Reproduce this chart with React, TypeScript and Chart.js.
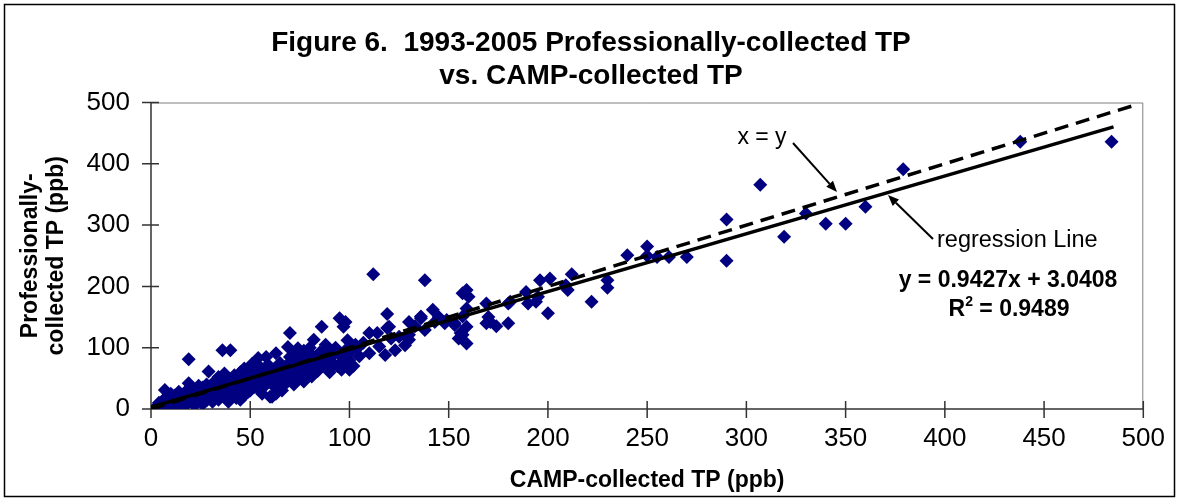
import React, { useEffect, useRef } from 'react';
import { Chart, registerables } from 'chart.js';

Chart.register(...registerables);

// CAMP-collected TP (ppb) — x values
const campTP = [
  3, 4, 5, 6, 7, 7, 8, 8, 9, 10, 10, 11, 12, 12, 13, 14, 15, 15, 16, 17, 18, 18, 19, 19, 20, 20, 21, 22, 22, 23, 24, 25, 25, 26, 27, 28, 29, 29, 30, 30,
  31, 32, 33, 34, 35, 35, 36, 36, 37, 38, 39, 40, 40, 41, 42, 42, 43, 44, 45, 45, 46, 47, 47, 48, 49, 50, 50, 51, 51,
  52, 53, 54, 54, 55, 55, 56, 57, 58, 58, 59, 60, 60, 61, 62, 63, 63, 63, 64, 64, 65, 66, 66, 67, 68, 68, 69, 69, 70, 70, 71, 72, 72,
  73, 74, 74, 75, 76, 76, 77, 78, 79, 80, 80, 81, 82, 82, 83, 84, 85, 86, 86, 87, 88, 89, 89, 90, 91, 92, 93, 94, 95, 96, 96, 97, 98, 98, 99, 99, 100, 100, 101, 102, 104, 105,
  14, 17, 21, 24, 26, 28, 31, 33, 34, 37, 38, 41, 43, 44, 46, 48, 49, 52, 53, 56, 57, 59, 61, 62, 65, 67, 70, 71, 73, 75, 77, 78, 81, 84, 87, 90, 92, 94, 97, 103,
  107, 110, 110, 112, 114, 115, 118, 119, 119, 120, 121, 123, 125, 128, 130, 130, 130, 133, 136, 136, 138, 138, 142, 143, 145, 148, 149, 153, 153, 155, 156, 157, 157, 157, 159, 159, 159, 159, 160,
  169, 170, 169, 171, 174, 180, 180, 181, 189, 190, 194, 195, 196, 201, 200, 210, 212,
  209, 222, 230, 230, 240, 250, 250, 255, 261, 270, 290, 290, 307, 319, 330, 340, 350, 360, 379, 438, 484,
];

// Professionally-collected TP (ppb) — y values
const proTP = [
  5, 10, 2, 14, 8, 31, 20, 3, 12, 25, 1, 16, 3, 22, 10, 28, 18, 6, 12, 24, 8, 30, 81, 42, 16, 35, 22, 6, 28, 12, 38, 20, 30, 8, 25, 40, 61, 18, 20, 32,
  12, 45, 26, 15, 38, 50, 96, 22, 58, 30, 12, 96, 42, 25, 44, 55, 18, 35, 60, 15, 48, 66, 22, 40, 52, 30, 62, 74, 45,
  36, 55, 83, 33, 68, 48, 25, 60, 85, 40, 72, 52, 20, 20, 65, 25, 91, 45, 34, 58, 75, 50, 30, 47, 42, 70, 101, 62, 124, 55, 78, 40, 90,
  62, 99, 48, 70, 88, 55, 45, 80, 66, 100, 58, 53, 113, 72, 85, 62, 92, 134, 70, 80, 105, 69, 95, 60, 77, 88, 100, 70, 148, 64, 90, 134, 142, 75, 112, 99, 80, 64, 95, 70, 99, 86,
  15, 5, 10, 25, 35, 14, 28, 40, 52, 30, 45, 50, 30, 48, 36, 58, 28, 50, 40, 65, 45, 55, 40, 50, 60, 68, 85, 60, 80, 58, 95, 65, 88, 75, 95, 85, 72, 95, 82, 105,
  108, 91, 124, 220, 124, 102, 88, 132, 155, 134, 115, 96, 118, 104, 113, 121, 142, 135, 148, 151, 129, 210, 162, 142, 150, 140, 145, 137, 140, 115, 124, 121, 151, 189, 194, 164, 134, 107, 183,
  172, 150, 140, 142, 135, 140, 172, 175, 191, 172, 175, 183, 210, 213, 156, 194, 220,
  202, 175, 210, 198, 251, 265, 250, 248, 248, 248, 309, 242, 366, 281, 319, 302, 302, 330, 391, 436, 436,
];

const xTicks = [0, 50, 100, 150, 200, 250, 300, 350, 400, 450, 500];
const yTicks = [0, 100, 200, 300, 400, 500];

const regSlope = 0.9427;
const regIntercept = 3.0408;
const regRange = [0, 485];
const identityRange = [0, 497];

const titleLines = ['Figure 6.  1993-2005 Professionally-collected TP', 'vs. CAMP-collected TP'];
const xTitle = 'CAMP-collected TP (ppb)';
const yTitle = ['Professionally-', 'collected TP (ppb)'];
const identityLabel = 'x = y';
const regressionLabel = 'regression Line';
const equationLabel = 'y = 0.9427x + 3.0408';
const r2Label = ' = 0.9489';

const FONT = '"Liberation Sans", Arial, Helvetica, sans-serif';

function arrow(ctx: CanvasRenderingContext2D, x1: number, y1: number, x2: number, y2: number) {
  const ang = Math.atan2(y2 - y1, x2 - x1);
  const len = 11;
  const half = 4.5;
  const bx = x2 - len * Math.cos(ang);
  const by = y2 - len * Math.sin(ang);
  ctx.beginPath();
  ctx.moveTo(x1, y1);
  ctx.lineTo(bx, by);
  ctx.lineWidth = 2;
  ctx.strokeStyle = '#000';
  ctx.stroke();
  ctx.beginPath();
  ctx.moveTo(x2, y2);
  ctx.lineTo(bx + half * Math.sin(ang), by - half * Math.cos(ang));
  ctx.lineTo(bx - half * Math.sin(ang), by + half * Math.cos(ang));
  ctx.closePath();
  ctx.fillStyle = '#000';
  ctx.fill();
}

const decor = {
  id: 'decor',
  beforeDatasetsDraw(chart: any) {
    const { ctx, chartArea: a, scales } = chart;
    const x = scales.x;
    const y = scales.y;
    ctx.save();
    ctx.strokeStyle = '#808080';
    ctx.lineWidth = 1;
    ctx.beginPath();
    ctx.moveTo(a.left, a.top + 0.5);
    ctx.lineTo(a.right - 0.5, a.top + 0.5);
    ctx.lineTo(a.right - 0.5, a.bottom);
    ctx.stroke();
    ctx.strokeStyle = '#333';
    ctx.lineWidth = 1.5;
    ctx.beginPath();
    ctx.moveTo(a.left, a.top);
    ctx.lineTo(a.left, a.bottom);
    ctx.lineTo(a.right, a.bottom);
    xTicks.forEach((v) => {
      const px = x.getPixelForValue(v);
      ctx.moveTo(px, a.bottom - 8);
      ctx.lineTo(px, a.bottom + 9);
    });
    yTicks.forEach((v) => {
      const py = y.getPixelForValue(v);
      ctx.moveTo(a.left - 9, py);
      ctx.lineTo(a.left + 8, py);
    });
    ctx.stroke();
    ctx.restore();
  },
  afterDraw(chart: any) {
    const { ctx, width, height } = chart;
    ctx.save();
    // outer border
    ctx.strokeStyle = '#000';
    ctx.lineWidth = 1.5;
    ctx.strokeRect(4.5, 4.5, width - 9, height - 9);

    // title
    ctx.fillStyle = '#000';
    ctx.textAlign = 'center';
    ctx.textBaseline = 'middle';
    ctx.font = `bold 28px ${FONT}`;
    ctx.fillText(titleLines[0], 591, 43);
    ctx.fillText(titleLines[1], 591, 76);

    // x = y label + arrow
    ctx.font = `23px ${FONT}`;
    ctx.fillText(identityLabel, 762, 138);
    arrow(ctx, 793, 143, 837, 192);

    // regression label + arrow
    ctx.textAlign = 'left';
    ctx.font = `23.5px ${FONT}`;
    ctx.fillText(regressionLabel, 937, 241);
    arrow(ctx, 933, 239, 888, 195);

    // equation
    ctx.textAlign = 'center';
    ctx.font = `bold 23px ${FONT}`;
    ctx.fillText(equationLabel, 1008, 281);

    // R² line
    ctx.textAlign = 'left';
    const bigFont = `bold 23px ${FONT}`;
    const supFont = `bold 14px ${FONT}`;
    ctx.font = bigFont;
    const wR = ctx.measureText('R').width;
    const wRest = ctx.measureText(r2Label).width;
    ctx.font = supFont;
    const w2 = ctx.measureText('2').width;
    const total = wR + w2 + wRest;
    let sx = 1009 - total / 2;
    ctx.font = bigFont;
    ctx.fillText('R', sx, 310);
    sx += wR;
    ctx.font = supFont;
    ctx.fillText('2', sx, 302);
    sx += w2;
    ctx.font = bigFont;
    ctx.fillText(r2Label, sx, 310);
    ctx.restore();
  },
};

export default function App() {
  const canvasRef = useRef<HTMLCanvasElement | null>(null);

  useEffect(() => {
    const canvas = canvasRef.current;
    if (!canvas) return;
    const points = campTP.map((v, i) => ({ x: v, y: proTP[i] }));
    const chart = new Chart(canvas, {
      type: 'scatter',
      data: {
        datasets: [
          {
            type: 'line',
            label: 'regression Line',
            data: regRange.map((v) => ({ x: v, y: regSlope * v + regIntercept })),
            borderColor: '#000',
            borderWidth: 3.5,
            pointRadius: 0,
            fill: false,
            order: 0,
          } as any,
          {
            type: 'line',
            label: 'x = y',
            data: identityRange.map((v) => ({ x: v, y: v })),
            borderColor: '#000',
            borderWidth: 3.5,
            borderDash: [14, 8],
            pointRadius: 0,
            fill: false,
            order: 1,
          } as any,
          {
            label: 'TP',
            data: points,
            pointStyle: 'rectRot',
            pointRadius: 7,
            pointHoverRadius: 7,
            backgroundColor: '#000080',
            borderColor: '#000080',
            borderWidth: 0,
            order: 2,
          },
        ],
      },
      options: {
        responsive: false,
        maintainAspectRatio: false,
        animation: false,
        events: [],
        layout: { padding: { left: 0, right: 34, top: 102.5, bottom: 0 } },
        plugins: {
          legend: { display: false },
          tooltip: { enabled: false },
          title: { display: false },
        },
        scales: {
          x: {
            type: 'linear',
            min: 0,
            max: 500,
            afterBuildTicks: (s: any) => {
              s.ticks = xTicks.map((v) => ({ value: v }));
            },
            afterFit: (s: any) => {
              s.height = 92;
            },
            grid: { display: false, drawTicks: false, tickLength: 0 },
            border: { display: false },
            ticks: {
              font: { family: FONT, size: 26 },
              color: '#000',
              padding: 14,
              maxRotation: 0,
              autoSkip: false,
            },
            title: {
              display: true,
              text: xTitle,
              color: '#000',
              font: { family: FONT, size: 23, weight: 'bold', lineHeight: 1.2 },
              padding: { top: 0, bottom: 7 },
            },
          },
          y: {
            type: 'linear',
            min: 0,
            max: 500,
            afterBuildTicks: (s: any) => {
              s.ticks = yTicks.map((v) => ({ value: v }));
            },
            afterFit: (s: any) => {
              s.width = 151;
            },
            grid: { display: false, drawTicks: false, tickLength: 0 },
            border: { display: false },
            ticks: {
              font: { family: FONT, size: 26 },
              color: '#000',
              padding: 21,
              autoSkip: false,
            },
            title: {
              display: true,
              text: yTitle,
              color: '#000',
              font: { family: FONT, size: 23, weight: 'bold', lineHeight: 1.15 },
              padding: { top: 17, bottom: 0 },
            },
          },
        },
      } as any,
      plugins: [decor],
    });
    return () => chart.destroy();
  }, []);

  return (
    <div style={{ position: 'absolute', left: 0, top: 0, width: 1179, height: 501, background: '#fff' }}>
      <canvas ref={canvasRef} width={1179} height={501} style={{ display: 'block' }} />
    </div>
  );
}
